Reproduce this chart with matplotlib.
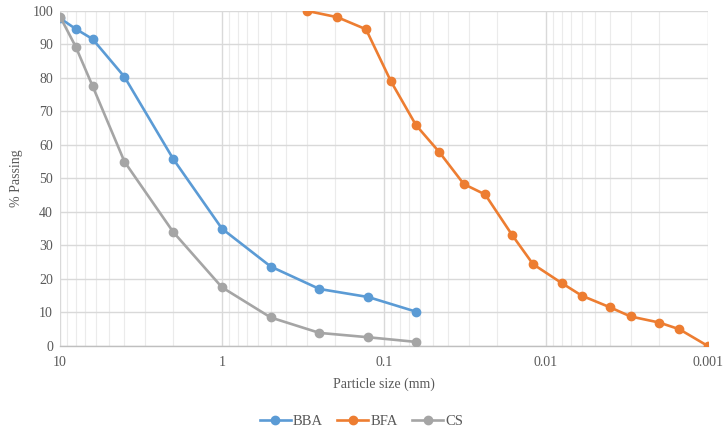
import numpy as np
import matplotlib.pyplot as plt
from matplotlib.ticker import FixedLocator, NullFormatter

# sieve sizes (mm) and percent passing
bba_size = [10, 8, 6.3, 4, 2, 1, 0.5, 0.25, 0.125, 0.063]
bba_pass = [97.8, 94.6, 91.6, 80.3, 55.8, 35.0, 23.7, 17.0, 14.6, 10.2]

cs_size = [10, 8, 6.3, 4, 2, 1, 0.5, 0.25, 0.125, 0.063]
cs_pass = [98.3, 89.3, 77.6, 55.0, 34.0, 17.5, 8.5, 3.9, 2.6, 1.2]

bfa_size = [0.3, 0.194, 0.129, 0.0906, 0.0634, 0.0456, 0.0321, 0.0237, 0.0161,
            0.012, 0.008, 0.006, 0.004, 0.003, 0.002, 0.0015, 0.001]
bfa_pass = [100.0, 98.1, 94.5, 79.0, 65.9, 57.9, 48.3, 45.2, 33.0,
            24.4, 18.8, 15.0, 11.5, 8.8, 7.0, 5.0, 0.0]

major_ticks = [10, 1, 0.1, 0.01, 0.001]
major_labels = ["10", "1", "0.1", "0.01", "0.001"]

plt.rcParams['font.family'] = ['Liberation Serif', 'DejaVu Serif']
txt = '#595959'

fig = plt.figure(figsize=(7.23, 4.33), dpi=100)
ax = fig.add_axes([0.083, 0.201, 0.896, 0.774])

ax.plot(bba_size, bba_pass, color='#5B9BD5', lw=1.9, marker='o', ms=6, label='BBA', zorder=3)
ax.plot(bfa_size, bfa_pass, color='#ED7D31', lw=1.9, marker='o', ms=6, label='BFA', zorder=3)
ax.plot(cs_size, cs_pass, color='#A5A5A5', lw=1.9, marker='o', ms=6, label='CS', zorder=3)

ax.set_xscale('log')
ax.set_xlim(10, 0.001)
ax.set_ylim(0, 100)
ax.set_yticks(np.arange(0, 101, 10))

ax.xaxis.set_major_locator(FixedLocator(major_ticks))
ax.set_xticklabels(major_labels)
minor = [m * 10.0 ** e for e in range(-3, 1) for m in range(2, 10)]
ax.xaxis.set_minor_locator(FixedLocator(minor))
ax.xaxis.set_minor_formatter(NullFormatter())

ax.grid(which='major', axis='both', color='#D9D9D9', lw=1.0)
ax.grid(which='minor', axis='x', color='#EBEBEB', lw=0.8)
ax.set_axisbelow(True)

for s in ['top', 'right', 'left']:
    ax.spines[s].set_visible(False)
ax.spines['bottom'].set_color('#BFBFBF')
ax.spines['bottom'].set_linewidth(1.0)

ax.tick_params(which='both', length=0, colors=txt, labelsize=10)
ax.tick_params(axis='x', pad=7)
ax.tick_params(axis='y', pad=5)

ax.set_xlabel('Particle size (mm)', color=txt, fontsize=10, labelpad=6)
ax.set_ylabel('% Passing', color=txt, fontsize=10, labelpad=7)

fig.legend(loc='center', bbox_to_anchor=(0.5, 0.027), ncol=3, frameon=False,
           fontsize=10.5, labelcolor=txt, handlelength=2.1, columnspacing=1.0,
           handletextpad=0.15)

fig.savefig('out.png', dpi=100)
